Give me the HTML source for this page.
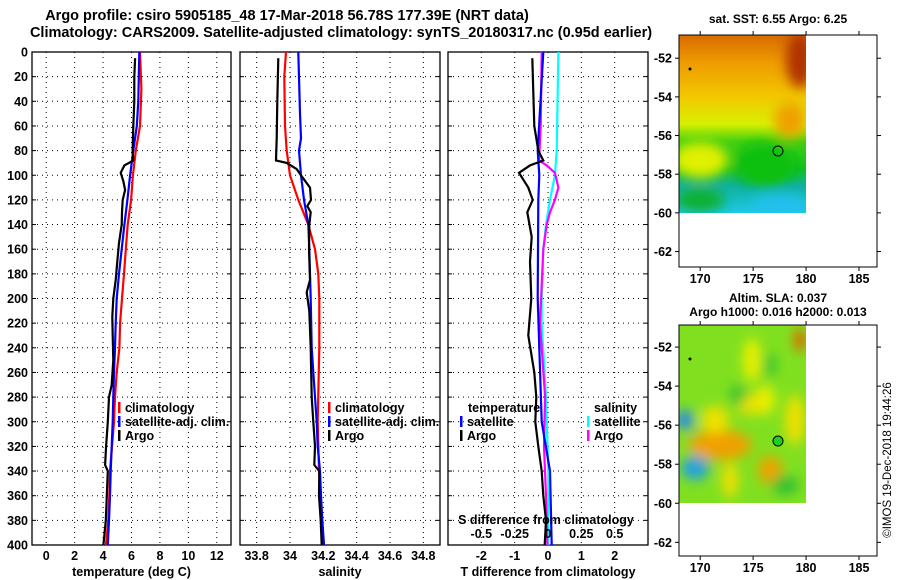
<!DOCTYPE html>
<html><head><meta charset="utf-8"><style>
body{margin:0;background:#fff;}
svg{display:block;font-family:"Liberation Sans",Arial,sans-serif;font-weight:bold;}
</style></head><body>
<svg id="c" width="900" height="580" viewBox="0 0 900 580" xmlns="http://www.w3.org/2000/svg">
<defs>
<filter id="bl" x="-50%" y="-50%" width="200%" height="200%"><feGaussianBlur stdDeviation="6"/></filter>
<clipPath id="c1"><rect x="679" y="35" width="127" height="178"/></clipPath>
<clipPath id="c2"><rect x="679" y="325" width="127" height="178"/></clipPath>
<linearGradient id="sstg" x1="0" y1="0" x2="0" y2="1">
<stop offset="0" stop-color="#d86a00"/><stop offset="0.15" stop-color="#ee9a00"/><stop offset="0.35" stop-color="#f2c800"/><stop offset="0.5" stop-color="#d8f000"/><stop offset="0.6" stop-color="#40d010"/><stop offset="0.75" stop-color="#10c020"/><stop offset="0.85" stop-color="#10b0a0"/><stop offset="1" stop-color="#20c8e8"/></linearGradient>
</defs>
<g id="titles" font-size="14.5">
<text x="287" y="20" text-anchor="middle">Argo profile: csiro 5905185_48 17-Mar-2018 56.78S 177.39E (NRT data)</text>
<text x="341" y="37" text-anchor="middle">Climatology: CARS2009. Satellite-adjusted climatology: synTS_20180317.nc (0.95d earlier)</text>
</g>
<g id="maps">
<g clip-path="url(#c1)">
<rect x="679" y="35" width="127" height="178" fill="url(#sstg)"/>
<g filter="url(#bl)">
<ellipse cx="700" cy="160" rx="28" ry="18" fill="#e0f000"/>
<ellipse cx="765" cy="165" rx="30" ry="22" fill="#10c010"/>
<ellipse cx="800" cy="60" rx="14" ry="28" fill="#b03000"/>
<ellipse cx="790" cy="120" rx="16" ry="18" fill="#f0a000"/>
<ellipse cx="700" cy="200" rx="25" ry="12" fill="#10b030"/>
<ellipse cx="780" cy="205" rx="28" ry="10" fill="#20c0f0"/>
</g>
</g>
<rect x="679" y="35" width="198" height="232" fill="none" stroke="#000"/>
<circle cx="778" cy="151" r="5" fill="none" stroke="#000"/>
<circle cx="690" cy="69" r="1.5" fill="#000"/>
<text x="778" y="23" text-anchor="middle" font-size="12">sat. SST: 6.55 Argo: 6.25</text>
<g clip-path="url(#c2)">
<rect x="679" y="325" width="127" height="178" fill="#80e020"/>
<g filter="url(#bl)">
<ellipse cx="720" cy="445" rx="32" ry="15" fill="#f0a000"/>
<ellipse cx="715" cy="420" rx="14" ry="14" fill="#f0e000"/>
<ellipse cx="765" cy="400" rx="10" ry="15" fill="#e8f000"/>
<ellipse cx="750" cy="405" rx="12" ry="10" fill="#f0e000"/>
<ellipse cx="770" cy="470" rx="12" ry="14" fill="#f0a000"/>
<ellipse cx="730" cy="480" rx="8" ry="18" fill="#f0e000"/>
<ellipse cx="752" cy="360" rx="9" ry="22" fill="#e8f000"/>
<ellipse cx="800" cy="340" rx="6" ry="12" fill="#e06000"/>
<ellipse cx="795" cy="420" rx="10" ry="25" fill="#f0e000"/>
<ellipse cx="685" cy="420" rx="8" ry="10" fill="#2080ff"/>
<ellipse cx="695" cy="468" rx="14" ry="12" fill="#20a0e0"/>
<ellipse cx="738" cy="395" rx="8" ry="10" fill="#30c030"/>
<ellipse cx="770" cy="365" rx="6" ry="12" fill="#30c030"/>
<ellipse cx="785" cy="485" rx="14" ry="10" fill="#30c030"/>
</g>
</g>
<rect x="679" y="325" width="198" height="231" fill="none" stroke="#000"/>
<circle cx="778" cy="441" r="5" fill="#20d020" stroke="#000"/>
<circle cx="690" cy="359" r="1.5" fill="#000"/>
<text x="778" y="302" text-anchor="middle" font-size="12">Altim. SLA: 0.037</text>
<text x="778" y="316" text-anchor="middle" font-size="12">Argo h1000: 0.016 h2000: 0.013</text>
<text transform="translate(891,460) rotate(-90)" text-anchor="middle" font-size="11.5" font-weight="normal">©IMOS 19-Dec-2018 19:44:26</text>
</g>
</svg>
<script>
// ---- data ----
const tempDepthClim=[0,30,60,80,100,120,140,160,180,200,220,240,260,280,300,320,340,360,380,400];
const tempClim=[6.6,6.7,6.6,6.3,6.1,5.97,5.73,5.6,5.47,5.33,5.2,5.15,4.96,4.84,4.77,4.63,4.49,4.44,4.37,4.2];
const tempDepthSat=[0,40,60,80,100,120,140,160,180,200,220,240,260,280,300,320,340,360,380,400];
const tempSat=[6.55,6.48,6.37,6.13,5.9,5.71,5.5,5.31,5.12,4.96,4.89,4.84,4.77,4.72,4.68,4.61,4.54,4.49,4.42,4.33];
const argoDepth=[5,20,40,60,80,88,92,98,105,112,120,130,140,155,170,185,200,215,230,250,270,280,300,320,335,340,360,380,400];
const tempArgo=[6.25,6.2,6.2,6.13,6.08,6.13,5.5,5.24,5.43,5.55,5.38,5.33,5.31,5.12,5.0,4.89,4.72,4.65,4.68,4.72,4.61,4.42,4.33,4.21,4.14,4.33,4.26,4.19,4.02];
const salDepthClim=[0,20,60,80,100,120,130,140,160,180,200,240,300,340,360,400];
const salClim=[33.976,33.966,33.97,33.98,34.0,34.05,34.08,34.11,34.15,34.17,34.176,34.176,34.166,34.174,34.184,34.196];
const salDepthSat=[0,50,70,80,100,120,140,160,200,240,280,300,320,340,360,380,400];
const salSat=[34.05,34.06,34.066,34.054,34.066,34.084,34.11,34.116,34.124,34.13,34.15,34.16,34.166,34.18,34.186,34.194,34.204];
const salArgoDepth=[5,40,70,88,90,95,100,110,120,125,130,140,160,185,195,210,240,280,300,320,335,340,360,380,400];
const salArgo=[33.93,33.924,33.92,33.916,33.98,34.04,34.066,34.12,34.126,34.104,34.124,34.116,34.114,34.12,34.1,34.116,34.124,34.13,34.14,34.15,34.146,34.176,34.174,34.184,34.19];
const dTDepthSat=[0,80,100,120,200,300,340,400];
const dTSat=[-0.14,-0.31,-0.26,-0.29,-0.31,-0.19,0.06,0.11];
const dTDepthArgo=[5,60,80,88,92,98,110,120,130,150,170,200,230,260,280,300,320,340,360,380,400];
const dTArgo=[-0.47,-0.41,-0.29,-0.14,-0.54,-0.87,-0.59,-0.46,-0.62,-0.49,-0.54,-0.5,-0.59,-0.41,-0.35,-0.38,-0.29,-0.19,-0.14,-0.06,-0.1];
const dSDepthSat=[0,80,100,120,140,160,200,220,280,340,400];
const dSSat=[0.078,0.065,0.052,0.015,-0.015,-0.035,-0.047,-0.047,-0.015,0.002,0.002];
const dSDepthArgo=[0,60,88,92,98,110,120,130,140,160,200,220,280,320,360,400];
const dSArgo=[-0.047,-0.055,-0.067,-0.01,0.052,0.078,0.052,0.015,-0.01,-0.035,-0.052,-0.06,-0.022,-0.03,-0.015,-0.005];
const depthTicks=[0,20,40,60,80,100,120,140,160,180,200,220,240,260,280,300,320,340,360,380,400];
const tempTicks=[0,2,4,6,8,10,12];
const salTicks=[33.8,34.0,34.2,34.4,34.6,34.8];
const salTickLabels=["33.8","34","34.2","34.4","34.6","34.8"];
const dTTicks=[-2,-1,0,1,2];
const dSTicks=[-0.5,-0.25,0,0.25,0.5];
const lonTicks=[170,175,180,185];
const latTicks=[-52,-54,-56,-58,-60,-62];

const NS="http://www.w3.org/2000/svg";
const svg=document.getElementById('c');
function mk(tag,attrs,parent){const e=document.createElementNS(NS,tag);for(const k in attrs)e.setAttribute(k,attrs[k]);(parent||svg).appendChild(e);return e;}
const Y0=52,Y1=545;
const yD=d=>Y0+d*(Y1-Y0)/400;
function lin(d0,d1,p0,p1){return v=>p0+(v-d0)*(p1-p0)/(d1-d0);}
const xT=lin(-1,13,32,231), xS=lin(33.7,34.9,240,440), xdT=lin(-3,3,448,648), xdS=v=>xdT(v*4);

function panel(name,x0,x1,xTicksArr,xf,labels,xtitle,showY){
  const g=mk('g',{});
  
  
  depthTicks.forEach(d=>{const y=yD(d);
    if(d>0&&d<400)mk('line',{x1:x0,x2:x1,y1:y,y2:y,stroke:'#000','stroke-dasharray':'1 4','stroke-width':1},g);
    mk('line',{x1:x0,x2:x0+4,y1:y,y2:y,stroke:'#000'},g);
    mk('line',{x1:x1-4,x2:x1,y1:y,y2:y,stroke:'#000'},g);
    if(showY){const t=mk('text',{x:x0-4,y:y+4.5,'text-anchor':'end','font-size':12.5},g);t.textContent=d;
      
      }
  });
  xTicksArr.forEach((v,i)=>{const x=xf(v);
    mk('line',{x1:x,x2:x,y1:Y0,y2:Y1,stroke:'#000','stroke-dasharray':'1 4'},g);
    if(labels){const t=mk('text',{x:x,y:560,'text-anchor':'middle','font-size':12.5},g);t.textContent=labels[i];
      
      }
  });
  mk('rect',{x:x0,y:Y0,width:x1-x0,height:Y1-Y0,fill:'none',stroke:'#000','stroke-width':1.3},g);
  const t=mk('text',{x:(x0+x1)/2,y:576,'text-anchor':'middle','font-size':12.5},g);t.textContent=xtitle;
  
  
  return g;
}
function line(depths,vals,xf,color,name,w){
  const pts=depths.map((d,i)=>xf(vals[i]).toFixed(1)+','+yD(d).toFixed(1)).join(' ');
  const p=mk('polyline',{points:pts,fill:'none',stroke:color,'stroke-width':w||2.2});
  
  
}
function legend(x,y,color,label,name){
  mk('rect',{x:x,y:y-10,width:2.5,height:11,fill:color});
  const t=mk('text',{x:x+7,y:y,'font-size':12.5});t.textContent=label;
  
  
}
panel('temperature-panel',32,231,tempTicks,xT,tempTicks.map(String),'temperature (deg C)',true);
panel('salinity-panel',240,440,salTicks,xS,salTickLabels,'salinity',false);
panel('difference-panel',448,648,dTTicks,xdT,dTTicks.map(String),'T difference from climatology',false);
line(tempDepthClim,tempClim,xT,'#f00','temp-climatology-line');
line(tempDepthSat,tempSat,xT,'#00f','temp-satellite-line');
line(argoDepth,tempArgo,xT,'#000','temp-argo-line');
line(salDepthClim,salClim,xS,'#f00','sal-climatology-line');
line(salDepthSat,salSat,xS,'#00f','sal-satellite-line');
line(salArgoDepth,salArgo,xS,'#000','sal-argo-line');
line(dSDepthSat,dSSat,xdS,'#0ff','dS-satellite-line');
line(dSDepthArgo,dSArgo,xdS,'#f0f','dS-argo-line');
line(dTDepthSat,dTSat,xdT,'#00f','dT-satellite-line');
line(dTDepthArgo,dTArgo,xdT,'#000','dT-argo-line');
legend(118,412,'#f00','climatology','legend-climatology');
legend(118,426,'#00f','satellite-adj. clim.','legend-satellite-adj');
legend(118,440,'#000','Argo','legend-argo');
legend(328,412,'#f00','climatology','legend-sal-climatology');
legend(328,426,'#00f','satellite-adj. clim.','legend-sal-satellite-adj');
legend(328,440,'#000','Argo','legend-sal-argo');
{const t=mk('text',{x:468,y:412,'font-size':12.5});t.textContent='temperature';

}
{const t=mk('text',{x:594,y:412,'font-size':12.5});t.textContent='salinity';

}
legend(460,426,'#00f','satellite','legend-t-satellite');
legend(460,440,'#000','Argo','legend-t-argo');
legend(587,426,'#0ff','satellite','legend-s-satellite');
legend(587,440,'#f0f','Argo','legend-s-argo');
{const t=mk('text',{x:546,y:524,'text-anchor':'middle','font-size':12.5});t.textContent='S difference from climatology';

}
dSTicks.forEach(v=>{const t=mk('text',{x:xdS(v),y:538,'text-anchor':'middle','font-size':12.5});t.textContent=v===0?'0':String(v);

});
// map axes
const xLon=lin(168,186.7,679,877);
[[35,267,-50.8,-62.8],[325,556,-50.87,-62.7]].forEach(([ya,yb,la,lb],mi)=>{
  const yL=lin(la,lb,ya,yb);
  lonTicks.forEach(v=>{const x=xLon(v);
    mk('line',{x1:x,x2:x,y1:ya,y2:ya-4,stroke:'#000'});
    mk('line',{x1:x,x2:x,y1:yb,y2:yb+4,stroke:'#000'});
    const t=mk('text',{x:x,y:yb+16,'text-anchor':'middle','font-size':12.5});t.textContent=v;
    
    });
  latTicks.forEach(v=>{const y=yL(v);
    mk('line',{x1:679,x2:675,y1:y,y2:y,stroke:'#000'});
    mk('line',{x1:877,x2:881,y1:y,y2:y,stroke:'#000'});
    const t=mk('text',{x:672,y:y+4.5,'text-anchor':'end','font-size':12.5});t.textContent=v;
    
    });
});
</script>
</body></html>
